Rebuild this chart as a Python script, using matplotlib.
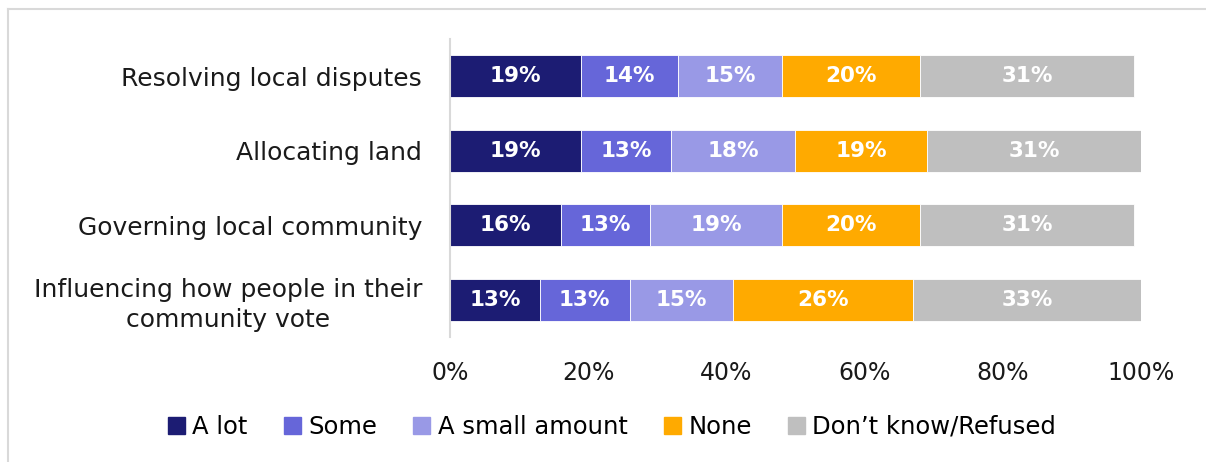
import matplotlib
matplotlib.use("Agg")
import matplotlib.pyplot as plt
from matplotlib.patches import Rectangle
import numpy as np

categories = [
    "Resolving local disputes",
    "Allocating land",
    "Governing local community",
    "Influencing how people in their\ncommunity vote",
]
series_names = ["A lot", "Some", "A small amount", "None", "Don\u2019t know/Refused"]
a_lot = [19, 19, 16, 13]
some = [14, 13, 13, 13]
small_amount = [15, 18, 19, 15]
none = [20, 19, 20, 26]
dont_know = [31, 31, 31, 33]
x_ticks = [0, 20, 40, 60, 80, 100]
x_tick_labels = ["0%", "20%", "40%", "60%", "80%", "100%"]

colors = ["#1C1C73", "#6666D9", "#9999E6", "#FFAA00", "#BFBFBF"]

plt.rcParams["font.family"] = ["DejaVu Sans"]

W, H = 1206, 462
fig = plt.figure(figsize=(W / 100, H / 100), dpi=100)

# outer frame lines (left and top)
fig.add_artist(plt.Line2D([8 / W, 8 / W], [0, 1 - 9 / H], transform=fig.transFigure,
                          color="#D9D9D9", lw=1.5))
fig.add_artist(plt.Line2D([8 / W, 1], [1 - 9 / H, 1 - 9 / H], transform=fig.transFigure,
                          color="#D9D9D9", lw=1.5))

left, right = 450 / W, 1141 / W
top, bottom = 1 - 39 / H, 1 - 337 / H
ax = fig.add_axes([left, bottom, right - left, top - bottom])

series = [a_lot, some, small_amount, none, dont_know]
y = np.arange(len(categories))
starts = np.zeros(len(categories))
for name, vals, col in zip(series_names, series, colors):
    vals = np.array(vals, dtype=float)
    ax.barh(y, vals, left=starts, height=0.56, color=col, label=name,
            edgecolor="white", linewidth=0.6)
    for yi, s, v in zip(y, starts, vals):
        ax.text(s + v / 2, yi, f"{int(v)}%", ha="center", va="center",
                color="white", fontsize=15.5, fontweight="bold")
    starts += vals

ax.set_xlim(0, 100)
ax.set_ylim(len(categories) - 0.5, -0.5)
ax.set_yticks(y)
ax.set_yticklabels(categories, fontsize=18, color="#1A1A1A", linespacing=1.3)
for lbl in ax.get_yticklabels():
    lbl.set_multialignment("center")
ax.set_xticks(x_ticks)
ax.set_xticklabels(x_tick_labels, fontsize=17, color="#1A1A1A")
ax.tick_params(axis="both", length=0)
ax.tick_params(axis="x", pad=17)
ax.tick_params(axis="y", pad=20)
for sp in ["top", "right", "bottom"]:
    ax.spines[sp].set_visible(False)
ax.spines["left"].set_color("#D9D9D9")
ax.spines["left"].set_linewidth(1.5)

handles = [Rectangle((0, 0), 1, 1, color=c) for c in colors]
fig.legend(handles, series_names, loc="center", bbox_to_anchor=(612 / W, 1 - 427 / H),
           ncol=5, frameon=False, fontsize=17.5, handlelength=0.7, handleheight=0.7,
           handletextpad=0.3, columnspacing=1.5)

fig.savefig("out.png", dpi=100, facecolor="white")
